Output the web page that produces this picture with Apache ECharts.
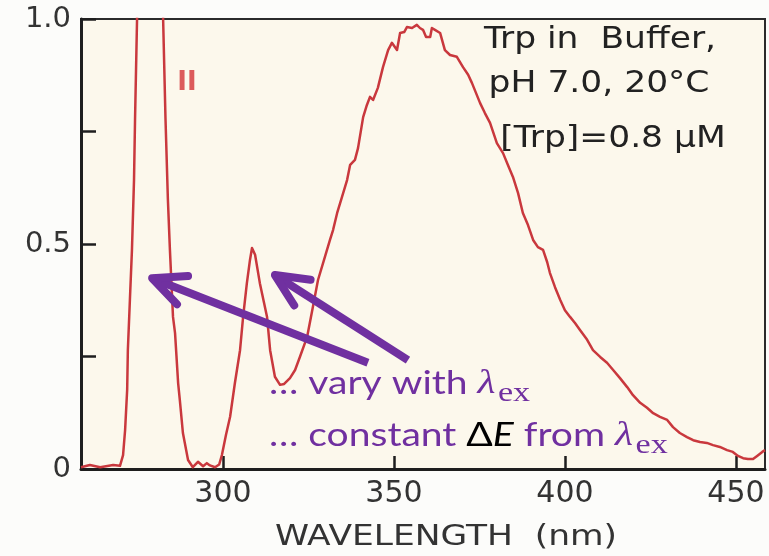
<!DOCTYPE html>
<html>
<head>
<meta charset="utf-8">
<script src="https://cdn.jsdelivr.net/npm/echarts@6/dist/echarts.min.js"></script>
<style>
  html, body { margin: 0; padding: 0; background: #fcfcfa; }
  #chart { width: 769px; height: 556px; }
</style>
</head>
<body>
<div id="chart"></div>
<script>
// Tryptophan emission spectrum (excitation peak, Raman band, fluorescence band)
const wavelengthNm = [
  258.5, 261.1, 264.1, 267.9, 269.9, 270.8, 271.4, 272.0, 272.2, 272.8,
  273.4, 274.0, 274.3, 274.9, 278.7, 282.5, 283.2, 283.9, 284.5, 285.4,
  286.0, 286.9, 287.4, 288.3, 289.8, 291.2, 292.7, 294.2, 295.3, 296.2,
  297.7, 298.9, 299.7, 300.9, 302.1, 303.5, 305.0, 305.9, 307.0, 307.9,
  308.5, 309.4, 310.8, 312.0, 312.9, 313.8, 315.2, 316.7, 317.9, 319.6,
  321.1, 322.5, 324.6, 326.3, 327.8, 329.8, 331.3, 332.2, 333.4, 334.8,
  336.3, 337.2, 338.6, 339.5, 341.0, 342.1, 343.0, 343.9, 345.3, 346.8,
  348.3, 349.4, 350.9, 351.8, 353.0, 353.8, 355.3, 356.7, 357.6, 358.5,
  359.4, 360.6, 361.1, 362.0, 363.5, 364.9, 366.4, 368.4, 370.2, 371.7,
  372.8, 375.2, 376.6, 378.1, 380.1, 381.9, 383.3, 384.8, 386.3, 387.7,
  389.2, 390.7, 392.1, 393.6, 394.8, 395.6, 397.1, 398.6, 400.0, 401.5,
  403.0, 404.4, 406.5, 408.2, 410.3, 412.3, 414.1, 416.1, 418.2, 419.9,
  422.0, 424.0, 425.8, 427.8, 429.9, 431.6, 433.6, 435.7, 437.5, 439.5,
  441.5, 443.3, 445.3, 447.4, 449.1, 450.6, 452.1, 453.5, 455.0, 456.2,
  457.7, 458.5
];
const emission = [
  0.004, 0.009, 0.004, 0.009, 0.007, 0.031, 0.087, 0.176, 0.264, 0.376,
  0.487, 0.642, 0.776, 1.004, 2.400, 1.004, 0.780, 0.600, 0.487, 0.338,
  0.302, 0.191, 0.153, 0.080, 0.020, 0.004, 0.016, 0.006, 0.013, 0.008,
  0.004, 0.010, 0.031, 0.076, 0.116, 0.191, 0.264, 0.338, 0.413, 0.464,
  0.491, 0.476, 0.413, 0.370, 0.338, 0.264, 0.205, 0.187, 0.189, 0.202,
  0.220, 0.249, 0.293, 0.360, 0.420, 0.471, 0.509, 0.531, 0.569, 0.604,
  0.642, 0.676, 0.687, 0.713, 0.782, 0.809, 0.827, 0.820, 0.847, 0.893,
  0.931, 0.947, 0.931, 0.969, 0.971, 0.982, 0.980, 0.987, 0.980, 0.976,
  0.960, 0.960, 0.980, 0.976, 0.969, 0.931, 0.920, 0.916, 0.893, 0.876,
  0.858, 0.813, 0.791, 0.769, 0.724, 0.702, 0.676, 0.649, 0.613, 0.569,
  0.542, 0.509, 0.493, 0.487, 0.460, 0.436, 0.404, 0.376, 0.353, 0.338,
  0.324, 0.309, 0.287, 0.264, 0.249, 0.236, 0.220, 0.202, 0.182, 0.164,
  0.147, 0.136, 0.124, 0.116, 0.109, 0.093, 0.080, 0.071, 0.064, 0.060,
  0.058, 0.053, 0.049, 0.042, 0.038, 0.029, 0.024, 0.022, 0.022, 0.029,
  0.038, 0.042
];
const xTickValues = [300, 350, 400, 450];
const yTickLabels = { 0: '0', 0.5: '0.5', 1: '1.0' };
const xAxisTitle = 'WAVELENGTH  (nm)';

// Annotation arrows, in data coordinates (tail -> tip)
const arrowTails = [[342.4, 0.236], [354.1, 0.242]];
const arrowTips  = [[279.3, 0.424], [315.2, 0.431]];

const infoLines = ['Trp in  Buffer,', 'pH 7.0, 20°C', '[Trp]=0.8 μM'];
const noteLines = [
  '{t|… vary with }{l|λ}{s|ex}',
  '{t|… constant }{k|Δ}{ke|E}{t| from }{l|λ}{s|ex}'
];

const AXIS_FONT = 'DejaVu Sans';
const INK = '#1e1e1e';
const PURPLE = '#7030a0';

const chart = echarts.init(document.getElementById('chart'), null, { renderer: 'canvas' });

chart.setOption({
  backgroundColor: '#fcfcfa',
  animation: false,
  grid: {
    left: 81, right: 4, top: 19, bottom: 87,
    show: true, backgroundColor: '#fcf8ec',
    borderColor: '#2b2b2b', borderWidth: 2,
    containLabel: false, outerBoundsMode: 'none'
  },
  xAxis: {
    type: 'value', min: 258.5, max: 458.5,
    axisLine: { show: true, lineStyle: { color: INK, width: 3 } },
    axisTick: { show: true, inside: true, length: 13, customValues: xTickValues, lineStyle: { color: INK, width: 2.5 } },
    axisLabel: { customValues: xTickValues, margin: 10, fontFamily: AXIS_FONT, fontSize: 30, color: '#333' },
    splitLine: { show: false }
  },
  yAxis: {
    type: 'value', min: 0, max: 1, interval: 0.25,
    axisLine: { show: true, lineStyle: { color: INK, width: 3 } },
    axisTick: { show: true, inside: true, length: 15, lineStyle: { color: INK, width: 2.5 } },
    axisLabel: {
      margin: 10, fontFamily: AXIS_FONT, fontSize: 29, color: '#333',
      formatter: v => (yTickLabels[v] !== undefined ? yTickLabels[v] : '')
    },
    splitLine: { show: false }
  },
  series: [{
    type: 'line',
    data: wavelengthNm.map((w, i) => [w, emission[i]]),
    symbol: 'none', showSymbol: false, clip: true,
    lineStyle: { color: '#c9383d', width: 2.5, join: 'round' }
  }]
});

function buildGraphics() {
  const els = [];
  // Axis title, lettered wide like the tick labels
  els.push({
    type: 'text', x: 446, y: 538, scaleX: 1.23, z: 10,
    style: { text: xAxisTitle, font: '28px "DejaVu Sans"', fill: '#333', align: 'center', verticalAlign: 'middle' }
  });
  // Sample description, top right
  const infoPos = [[600, 40], [599, 84], [613, 139]];
  infoLines.forEach((t, i) => {
    els.push({
      type: 'text', x: infoPos[i][0], y: infoPos[i][1], scaleX: 1.15, z: 10,
      style: { text: t, font: '30px "DejaVu Sans"', fill: '#222', align: 'center', verticalAlign: 'middle' }
    });
  });
  // Red scale-change mark next to the excitation peak
  els.push({
    type: 'text', x: 187, y: 83, z: 10,
    style: { text: 'II', font: 'bold 26px "DejaVu Sans"', fill: '#dc5a5a', align: 'center', verticalAlign: 'middle' }
  });
  // Arrows
  const headLen = 36, headAng = 25 * Math.PI / 180;
  arrowTails.forEach((tail, i) => {
    const p0 = chart.convertToPixel({ gridIndex: 0 }, tail);
    const p1 = chart.convertToPixel({ gridIndex: 0 }, arrowTips[i]);
    const a = Math.atan2(p0[1] - p1[1], p0[0] - p1[0]);
    const arm1 = [p1[0] + headLen * Math.cos(a - headAng), p1[1] + headLen * Math.sin(a - headAng)];
    const arm2 = [p1[0] + headLen * Math.cos(a + headAng), p1[1] + headLen * Math.sin(a + headAng)];
    const st = { stroke: PURPLE, lineWidth: 8, lineCap: 'round', lineJoin: 'round', fill: null };
    els.push({ type: 'line', z: 20, shape: { x1: p0[0], y1: p0[1], x2: p1[0], y2: p1[1] }, style: Object.assign({}, st, { lineCap: 'butt' }) });
    els.push({ type: 'polyline', z: 20, shape: { points: [arm1, p1, arm2] }, style: st });
  });
  // Purple notes
  const rich = {
    t: { fontFamily: 'Lato', fontSize: 32, fill: PURPLE, lineHeight: 50 },
    l: { fontFamily: 'Liberation Serif', fontStyle: 'italic', fontSize: 34, fill: PURPLE, lineHeight: 50 },
    s: { fontFamily: 'Liberation Serif', fontSize: 28, fill: PURPLE, lineHeight: 50, padding: [20, 0, 0, 2] },
    k: { fontFamily: 'Lato', fontSize: 32, fill: '#000', lineHeight: 50 },
    ke: { fontFamily: 'Lato', fontStyle: 'italic', fontSize: 32, fill: '#000', lineHeight: 50 }
  };
  const notePos = [[269, 384], [269, 436]];
  noteLines.forEach((t, i) => {
    els.push({
      type: 'text', x: notePos[i][0], y: notePos[i][1], scaleX: 1.22, z: 15,
      style: { text: t, rich: rich, align: 'left', verticalAlign: 'middle' }
    });
  });
  chart.setOption({ graphic: { elements: els } });
}
buildGraphics();
</script>
</body>
</html>
